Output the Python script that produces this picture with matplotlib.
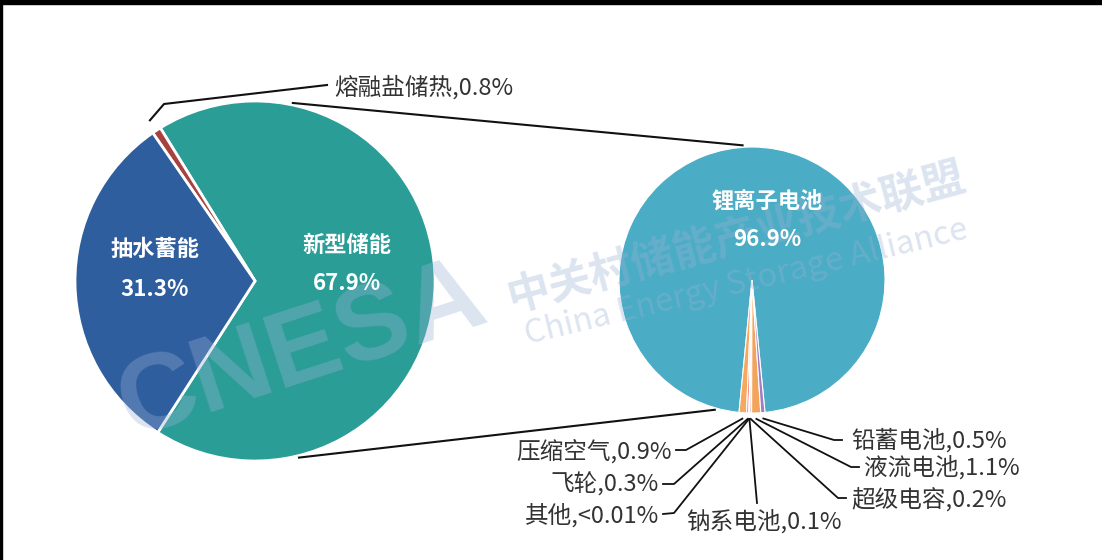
import numpy as np
import matplotlib.pyplot as plt
from matplotlib.patches import Rectangle

plt.rcParams['font.family'] = ['Noto Sans CJK SC', 'DejaVu Sans']

# left pie: all energy storage
main_labels = ['新型储能', '熔融盐储热', '抽水蓄能']
main_values = [67.9, 0.8, 31.3]
main_colors = ['#2A9D96', '#A8423F', '#2E5E9E']

# right pie: breakdown of 新型储能
sub_labels = ['锂离子电池', '压缩空气', '飞轮', '其他', '钠系电池', '超级电容', '液流电池', '铅蓄电池']
sub_values = [96.9, 0.9, 0.3, 0.01, 0.1, 0.2, 1.1, 0.5]
sub_texts = ['96.9%', '0.9%', '0.3%', '<0.01%', '0.1%', '0.2%', '1.1%', '0.5%']
sub_colors = ['#4AACC5', '#F5A85E', '#EF8A82', '#9FD3A6', '#F6B36C', '#EE8E8E', '#F4A35A', '#A07CC5']

W, H = 1102, 560
TEXT = '#333333'


def px(x, y):
    # pixel position (origin top-left) -> data coords
    return x, H - y


def edge_point(center, r, angle):
    a = np.deg2rad(angle)
    return center[0] + r * np.cos(a), center[1] + r * np.sin(a)


def draw_watermark(ax):
    wm = dict(color='#9AB2D4', alpha=0.35, zorder=5, ha='center', va='center')
    ax.text(*px(302, 352), 'CNESA', fontsize=78, fontweight='bold',
            family='Liberation Sans', rotation=18, **wm)
    ax.text(*px(736, 238), '中关村储能产业技术联盟', fontsize=31,
            fontweight='bold', rotation=15, **wm)
    ax.text(*px(746, 282), 'China Energy Storage Alliance', fontsize=23.5,
            rotation=13.5, **wm)


def main():
    fig = plt.figure(figsize=(W / 100, H / 100), dpi=100)
    ax = fig.add_axes([0, 0, 1, 1])

    # left pie
    c1, r1 = px(255, 281), 180
    w1, _ = ax.pie(main_values, colors=main_colors, center=c1, radius=r1,
                   startangle=237.3, counterclock=True,
                   wedgeprops=dict(edgecolor='white', linewidth=2))

    # right pie, small slices centred at the bottom
    c2, r2 = px(752, 280), 133
    tot = sum(sub_values)
    start = 270 - 360 * (sub_values[0] + sum(sub_values[1:]) / 2) / tot
    w2, _ = ax.pie(sub_values, colors=sub_colors, center=c2, radius=r2,
                   startangle=start, counterclock=True,
                   wedgeprops=dict(edgecolor='white', linewidth=0.8))

    # connector lines between the pies
    for a1, a2 in [(78, 94), (-76, 254)]:
        p1 = edge_point(c1, r1 + 2, a1)
        p2 = edge_point(c2, r2 + 2, a2)
        ax.plot([p1[0], p2[0]], [p1[1], p2[1]], color='#111111', lw=1.5)

    # inner labels
    bold = dict(color='white', fontsize=16, fontweight='bold', ha='center', va='center', zorder=6)
    ax.text(*px(155, 250), main_labels[2], **bold)
    ax.text(*px(155, 290), f'{main_values[2]}%', **bold)
    ax.text(*px(347, 245), main_labels[0], **bold)
    ax.text(*px(347, 284), f'{main_values[0]}%', **bold)
    ax.text(*px(767, 201), sub_labels[0], **bold)
    ax.text(*px(767, 240), sub_texts[0], **bold)

    # 熔融盐储热 label
    red = w1[1]
    mid = (red.theta1 + red.theta2) / 2
    s = edge_point(c1, r1 + 12, mid)
    e1, e2 = px(164, 104), px(327, 85)
    ax.plot([s[0], e1[0], e2[0]], [s[1], e1[1], e2[1]], color='#111111', lw=1.5)
    ax.text(*px(334, 87), f'{main_labels[1]},{main_values[1]}%', fontsize=17,
            color=TEXT, ha='left', va='center')

    # small slice labels: elbow, end of horizontal stub, text anchor, alignment
    layout = {
        '压缩空气': ((686, 450), (676, 450), (672, 451), 'right'),
        '飞轮': ((674, 484), (663, 484), (659, 485), 'right'),
        '其他': ((674, 513), (663, 514), (659, 515), 'right'),
        '钠系电池': ((757, 503), (757, 503), (764, 521), 'center'),
        '超级电容': ((838, 498), (846, 498), (851, 500), 'left'),
        '液流电池': ((851, 467), (859, 467), (864, 467), 'left'),
        '铅蓄电池': ((834, 440), (842, 440), (851, 440), 'left'),
    }
    for wedge, lab, txt in zip(w2[1:], sub_labels[1:], sub_texts[1:]):
        elbow, stub, tpos, ha = layout[lab]
        mid = (wedge.theta1 + wedge.theta2) / 2
        s = edge_point(c2, r2 + 6, mid)
        e1, e2 = px(*elbow), px(*stub)
        ax.plot([s[0], e1[0], e2[0]], [s[1], e1[1], e2[1]], color='#111111', lw=1.3)
        ax.text(*px(*tpos), f'{lab},{txt}', fontsize=17, color=TEXT,
                ha=ha, va='center')

    draw_watermark(ax)

    ax.set_xlim(0, W)
    ax.set_ylim(0, H)
    ax.axis('off')

    # black frame bits at the top and left edge
    fig.patches.append(Rectangle((0, 1 - 4 / H), 1, 4 / H, transform=fig.transFigure,
                                 color='black', zorder=10))
    fig.patches.append(Rectangle((0, 0), 2 / W, 1, transform=fig.transFigure,
                                 color='black', zorder=10))

    fig.savefig('out.png', dpi=100)


if __name__ == "__main__":
    main()
